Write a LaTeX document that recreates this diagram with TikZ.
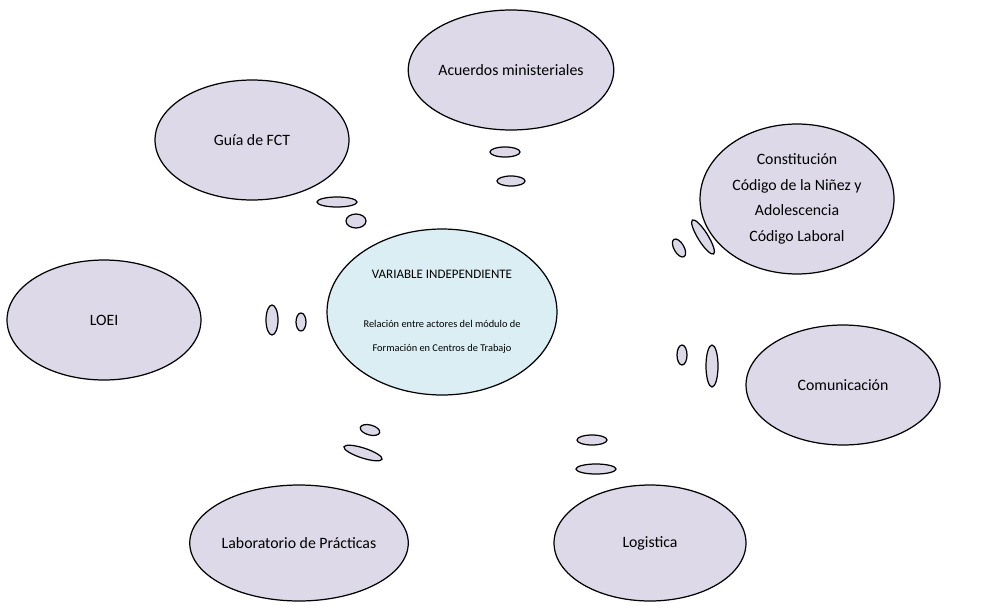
\documentclass[tikz,border=0pt]{standalone}
\usepackage{fontspec}
\setmainfont{Carlito}
\usetikzlibrary{shapes.geometric}
\definecolor{lila}{HTML}{DDD9E8}
\definecolor{celeste}{HTML}{DBEEF4}

\begin{document}
\begin{tikzpicture}[x=0.02cm,y=-0.02cm,
		%% styles
		line width=0.7pt,%
		idea/.style={ellipse,draw=black,fill=lila,inner sep=0pt,
			minimum width=3.88cm,minimum height=2.4cm,align=center,
			font=\fontsize{9}{11}\selectfont},%
		centro/.style={idea,fill=celeste,minimum width=4.6cm,minimum height=3.32cm,
			font=\fontsize{5.9}{13.6}\selectfont},%
		bubble/.style={draw=black,fill=lila}%
		]
	\useasboundingbox (0,0) rectangle (989,605);
	%
	%% central node
	\node[centro] (var) at (442,312)
		{{\fontsize{7.4}{13.6}\selectfont VARIABLE INDEPENDIENTE}\\[14.4pt]
		Relación entre actores del módulo de\\
		Formación en Centros de Trabajo};
	%
	%% outer nodes
	\node[idea] (acuerdos) at (511,70) {Acuerdos ministeriales};
	\node[idea] (guia) at (252,140) {Guía de FCT};
	\node[idea,minimum height=3.0cm,font=\fontsize{9}{14.6}\selectfont] (leyes) at (797,199)
		{Constitución\\Código de la Niñez y\\Adolescencia\\Código Laboral};
	\node[idea] (loei) at (104,320) {LOEI};
	\node[idea] (comunicacion) at (843,385) {Comunicación};
	\node[idea,minimum width=3.94cm,minimum height=2.32cm] (lab) at (299,543) {Laboratorio de Prácticas};
	\node[idea,minimum width=3.84cm,minimum height=2.32cm] (logistica) at (650,543) {Logistica};
	%
	%% thought bubbles
	\draw[bubble] (505,152) ellipse (15 and 5);
	\draw[bubble] (511,181) ellipse (14 and 5);
	%
	\draw[bubble] (337,202) ellipse (20 and 5);
	\draw[bubble] (356,221) ellipse (10 and 7);
	%
	\draw[bubble,rotate around={30:(679,248)}] (679,248) ellipse (5 and 10);
	\draw[bubble,rotate around={32:(703,237)}] (703,237) ellipse (5 and 20);
	%
	\draw[bubble] (272,320) ellipse (6 and 15);
	\draw[bubble] (301,322) ellipse (5 and 9);
	%
	\draw[bubble] (682,355) ellipse (5 and 10);
	\draw[bubble] (712,366) ellipse (6 and 21);
	%
	\draw[bubble,rotate around={-15:(370,430)}] (370,430) ellipse (10 and 5);
	\draw[bubble,rotate around={-18:(363,453)}] (363,453) ellipse (20 and 5);
	%
	\draw[bubble] (592,440) ellipse (15 and 5);
	\draw[bubble] (596,469) ellipse (20 and 5);
\end{tikzpicture}
\end{document}
